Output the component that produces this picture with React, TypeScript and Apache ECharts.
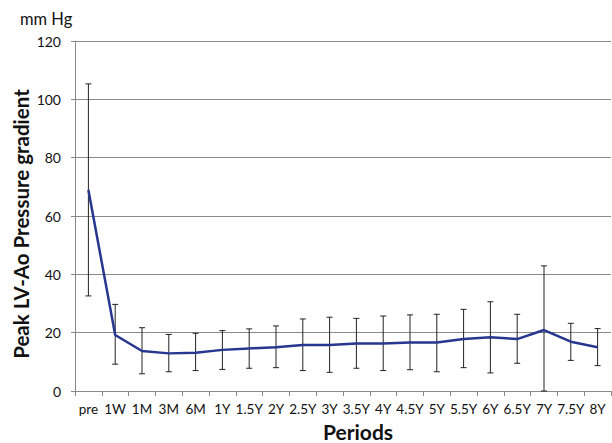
import React, { useEffect, useRef } from "react";
import * as echarts from "echarts";

const categories = ["pre", "1W", "1M", "3M", "6M", "1Y", "1.5Y", "2Y", "2.5Y", "3Y", "3.5Y", "4Y", "4.5Y", "5Y", "5.5Y", "6Y", "6.5Y", "7Y", "7.5Y", "8Y"];
const meanValues = [68.9, 19.2, 13.7, 12.9, 13.1, 14.1, 14.6, 15.0, 15.8, 15.8, 16.3, 16.3, 16.6, 16.6, 17.8, 18.4, 17.8, 20.9, 16.9, 15.0];
const upperValues = [105.3, 29.7, 21.7, 19.4, 19.8, 20.7, 21.3, 22.3, 24.7, 25.3, 24.9, 25.7, 26.1, 26.3, 28.0, 30.6, 26.3, 42.9, 23.2, 21.4];
const lowerValues = [32.6, 9.2, 5.9, 6.6, 7.0, 7.4, 7.8, 8.0, 7.0, 6.4, 7.8, 7.0, 7.3, 6.6, 8.0, 6.2, 9.5, 0, 10.5, 8.7];
const yTicks = { min: 0, max: 120, interval: 20 };

const FONT = "Lato, 'Open Sans', sans-serif";

export default function App() {
  const ref = useRef<HTMLDivElement>(null);
  useEffect(() => {
    document.body.style.margin = "0";
    const chart = echarts.init(ref.current!, null, { renderer: "svg" });
    const errData = categories.map((_, i) => [i, lowerValues[i], upperValues[i]]);
    chart.setOption({
      animation: false,
      textStyle: { fontFamily: FONT },
      grid: { left: 75, right: 1, top: 41, bottom: 52 },
      graphic: [
        { type: "text", x: 20, y: 19, style: { text: "mm Hg", font: `16.5px ${FONT}`, fill: "#111", textVerticalAlign: "middle" } },
        {
          type: "text",
          x: 21,
          y: 224,
          rotation: Math.PI / 2,
          style: { text: "Peak LV-Ao Pressure gradient", font: `bold 20.5px ${FONT}`, fill: "#111", textAlign: "center", textVerticalAlign: "middle" },
        },
        {
          type: "text",
          x: 358,
          y: 431,
          style: { text: "Periods", font: `bold 21px ${FONT}`, fill: "#111", textAlign: "center", textVerticalAlign: "middle" },
        },
      ],
      xAxis: {
        type: "category",
        data: categories,
        boundaryGap: true,
        axisLine: { lineStyle: { color: "#8a8a8a" } },
        axisTick: { show: true, length: 5, lineStyle: { color: "#8a8a8a" } },
        axisLabel: { fontSize: 13.5, color: "#111", interval: 0, margin: 11, fontFamily: FONT },
      },
      yAxis: {
        type: "value",
        min: yTicks.min,
        max: yTicks.max,
        interval: yTicks.interval,
        axisLine: { show: true, lineStyle: { color: "#8a8a8a" } },
        axisTick: { show: true, length: 4, lineStyle: { color: "#8a8a8a" } },
        axisLabel: { fontSize: 14, color: "#111", margin: 14, fontFamily: FONT },
        splitLine: { lineStyle: { color: "#8a8a8a", width: 1 } },
      },
      series: [
        {
          type: "custom",
          data: errData,
          z: 1,
          renderItem: (params: any, api: any) => {
            const x = api.value(0);
            const lo = api.coord([x, api.value(1)]);
            const hi = api.coord([x, api.value(2)]);
            const half = 3;
            const st = { stroke: "#222", lineWidth: 1 };
            return {
              type: "group",
              children: [
                { type: "line", shape: { x1: lo[0], y1: lo[1], x2: hi[0], y2: hi[1] }, style: st },
                { type: "line", shape: { x1: hi[0] - half, y1: hi[1], x2: hi[0] + half, y2: hi[1] }, style: st },
                { type: "line", shape: { x1: lo[0] - half, y1: lo[1], x2: lo[0] + half, y2: lo[1] }, style: st },
              ],
            };
          },
        },
        {
          type: "line",
          data: meanValues,
          z: 3,
          symbol: "none",
          lineStyle: { color: "#27368f", width: 2.5 },
        },
      ],
    });
    return () => chart.dispose();
  }, []);
  return <div ref={ref} style={{ width: 612, height: 443 }} />;
}
